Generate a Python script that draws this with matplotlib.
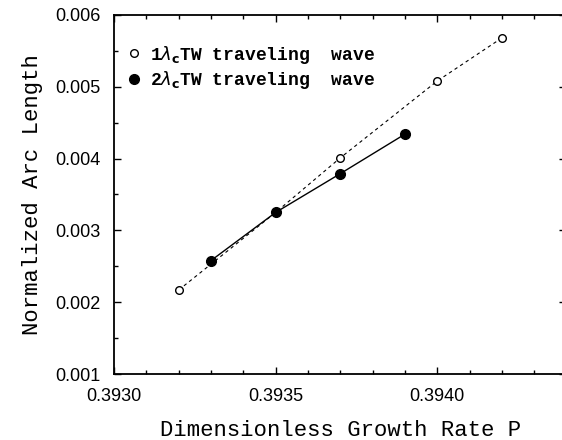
#!/usr/bin/env python3
"""Arc length of traveling-wave solutions against growth rate P."""

import matplotlib
matplotlib.use('Agg')
import matplotlib.pyplot as plt
from matplotlib.ticker import MultipleLocator, FormatStrFormatter

# 1 lambda_c traveling wave branch (open circles, dashed)
p_tw1 = [0.3932, 0.3935, 0.3937, 0.3940, 0.3942]
arc_tw1 = [0.00217, 0.00325, 0.00401, 0.00508, 0.00568]

# 2 lambda_c traveling wave branch (filled circles, solid)
p_tw2 = [0.3933, 0.3935, 0.3937, 0.3939]
arc_tw2 = [0.00258, 0.00325, 0.00379, 0.00434]

x_ticks = [0.3930, 0.3935, 0.3940]
y_ticks = [0.001, 0.002, 0.003, 0.004, 0.005, 0.006]

label_font = 'Liberation Mono'
tick_font = 'Liberation Sans'

fig = plt.figure(figsize=(5.62, 4.40), dpi=100)
ax = fig.add_axes([0.203, 0.150, 0.805, 0.816])

ax.plot(p_tw1, arc_tw1, linestyle=(0, (3, 3)), color='black', linewidth=0.8,
        marker='o', markersize=5.5, markerfacecolor='white',
        markeredgecolor='black', markeredgewidth=1.0,
        label=r'1$\lambda_{\mathbf{c}}$TW traveling  wave', zorder=2)
ax.plot(p_tw2, arc_tw2, linestyle='-', color='black', linewidth=1.0,
        marker='o', markersize=7, markerfacecolor='black',
        markeredgecolor='black',
        label=r'2$\lambda_{\mathbf{c}}$TW traveling  wave', zorder=3)

ax.set_xlim(0.3930, 0.3944)
ax.set_ylim(0.001, 0.006)
ax.set_xticks(x_ticks)
ax.set_yticks(y_ticks)
ax.xaxis.set_minor_locator(MultipleLocator(0.0001))
ax.yaxis.set_minor_locator(MultipleLocator(0.0005))
ax.xaxis.set_major_formatter(FormatStrFormatter('%.4f'))
ax.yaxis.set_major_formatter(FormatStrFormatter('%.3f'))

ax.tick_params(which='both', direction='in', top=True, right=True, width=1.0)
ax.tick_params(which='major', length=5, labelsize=13)
ax.tick_params(which='minor', length=3)
ax.tick_params(axis='x', which='major', pad=10)
ax.tick_params(axis='y', which='major', pad=10)
for lbl in ax.get_xticklabels() + ax.get_yticklabels():
    lbl.set_fontfamily(tick_font)
for sp in ax.spines.values():
    sp.set_linewidth(1.3)

ax.set_xlabel('Dimensionless Growth Rate P', fontfamily=label_font,
              fontsize=16, labelpad=11)
ax.set_ylabel('Normalized Arc Length', fontfamily=label_font,
              fontsize=16, labelpad=8.5)

leg = ax.legend(loc='upper left', bbox_to_anchor=(0.0, 0.96), frameon=False,
                handlelength=0.6, handletextpad=0.6, labelspacing=0.2,
                borderaxespad=0.4,
                prop={'family': label_font, 'weight': 'bold', 'size': 13})
for h in leg.legend_handles:
    h.set_linestyle('None')

fig.savefig('out.png', dpi=100)
